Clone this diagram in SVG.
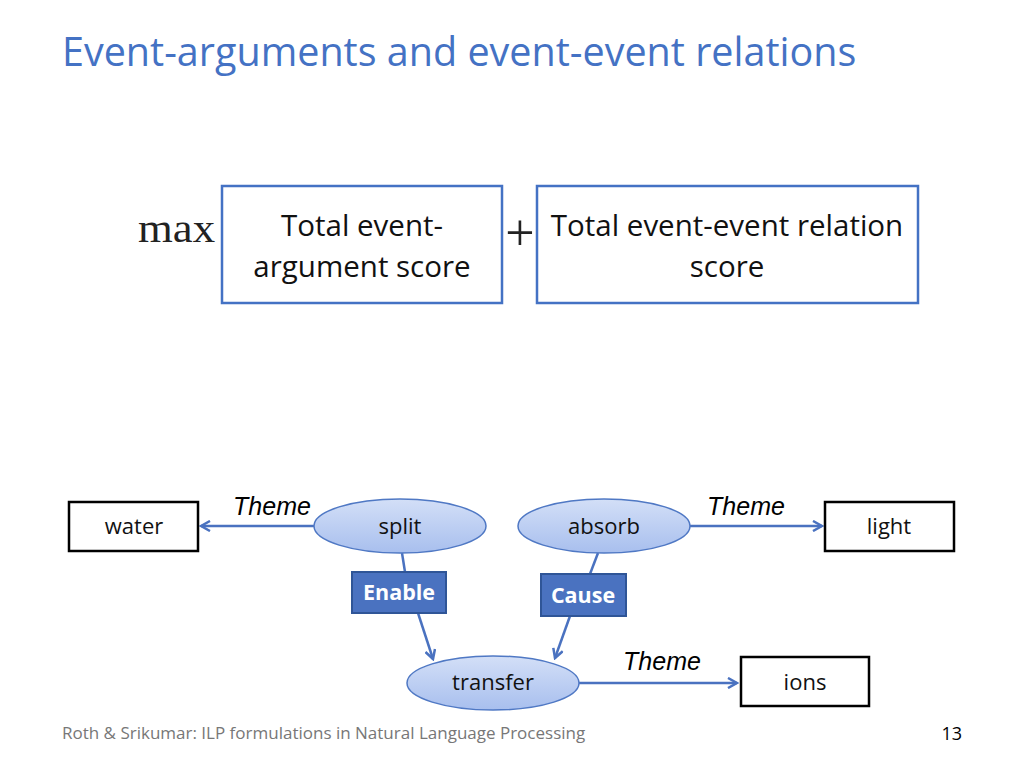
<svg xmlns="http://www.w3.org/2000/svg" width="1024" height="768" viewBox="0 0 1024 768">
<style>
.title{font-family:"Open Sans","Liberation Sans",sans-serif;font-size:39.5px;fill:#4472C4}
.big{font-family:"Open Sans","Liberation Sans",sans-serif;font-size:29.5px;fill:#111}
.bbox{fill:#fff;stroke:#4472C4;stroke-width:2.5}
.kbox{fill:#fff;stroke:#000;stroke-width:2.5}
.lbl{font-family:"Open Sans","Liberation Sans",sans-serif;font-size:22px;fill:#111;text-anchor:middle}
.rel{fill:#4A72C0;stroke:#2F5597;stroke-width:2}
.relt{font-family:"Open Sans","Liberation Sans",sans-serif;font-size:21.5px;font-weight:bold;fill:#fff;text-anchor:middle}
.ell{fill:url(#eg);stroke:#4F78C4;stroke-width:1.5}
.theme{font-family:"Liberation Sans",Arial,sans-serif;font-style:italic;font-size:25px;fill:#000;text-anchor:middle}
.con{stroke:#4A72C0;stroke-width:2.5;fill:none}
.math{font-family:"Liberation Serif","DejaVu Serif",serif;fill:#222}
.foot{font-family:"Open Sans","Liberation Sans",sans-serif;font-size:17px;fill:#777}
</style>
<defs>
<linearGradient id="eg" x1="0" y1="0" x2="0" y2="1">
<stop offset="0" stop-color="#D3DFF7"/>
<stop offset="1" stop-color="#A8BFEE"/>
</linearGradient>
<marker id="ah" viewBox="0 0 12 12" refX="10" refY="6" markerWidth="12" markerHeight="12" markerUnits="userSpaceOnUse" orient="auto">
<path d="M1,1 L10,6 L1,11" fill="none" stroke="#4A72C0" stroke-width="2.5"/>
</marker>
</defs>
<rect width="1024" height="768" fill="#fff"/>
<text class="title" x="62" y="66">Event-arguments and event-event relations</text>

<g id="formula">
<text class="math" x="138" y="242" font-size="40" textLength="77" lengthAdjust="spacingAndGlyphs">max</text>
<text class="math" x="520" y="250" font-size="52" text-anchor="middle">+</text>
</g>
<g id="box-argument">
<rect class="bbox" x="222" y="186" width="280" height="117"/>
<text class="big" x="362" y="236" text-anchor="middle">Total event-</text>
<text class="big" x="362" y="277" text-anchor="middle">argument score</text>
</g>
<g id="box-relation">
<rect class="bbox" x="537" y="186" width="381" height="117"/>
<text class="big" x="727" y="236" text-anchor="middle">Total event-event relation</text>
<text class="big" x="727" y="277" text-anchor="middle">score</text>
</g>

<g id="connectors">
<line class="con" x1="314" y1="526" x2="201" y2="526" marker-end="url(#ah)"/>
<line class="con" x1="690" y1="526" x2="822" y2="526" marker-end="url(#ah)"/>
<line class="con" x1="579" y1="683" x2="737" y2="683" marker-end="url(#ah)"/>
<line class="con" x1="402" y1="553" x2="405" y2="572"/>
<line class="con" x1="418" y1="613" x2="433" y2="659" marker-end="url(#ah)"/>
<line class="con" x1="598" y1="553" x2="590" y2="574"/>
<line class="con" x1="570" y1="616" x2="555" y2="658" marker-end="url(#ah)"/>
<text class="theme" x="272" y="515">Theme</text>
<text class="theme" x="746" y="515">Theme</text>
<text class="theme" x="662" y="670">Theme</text>
</g>

<g id="water">
<rect class="kbox" x="69" y="502" width="129" height="49"/>
<text class="lbl" x="134" y="534">water</text>
</g>
<g id="split">
<ellipse class="ell" cx="400" cy="526" rx="86" ry="27"/>
<text class="lbl" x="400" y="534">split</text>
</g>
<g id="absorb">
<ellipse class="ell" cx="604" cy="526" rx="86" ry="27"/>
<text class="lbl" x="604" y="534">absorb</text>
</g>
<g id="light">
<rect class="kbox" x="825" y="502" width="129" height="49"/>
<text class="lbl" x="889" y="534">light</text>
</g>
<g id="enable">
<rect class="rel" x="352" y="572" width="94" height="41"/>
<text class="relt" x="399" y="600">Enable</text>
</g>
<g id="cause">
<rect class="rel" x="541" y="574" width="85" height="42"/>
<text class="relt" x="583" y="603">Cause</text>
</g>
<g id="transfer">
<ellipse class="ell" cx="493" cy="683" rx="86" ry="27"/>
<text class="lbl" x="493" y="690">transfer</text>
</g>
<g id="ions">
<rect class="kbox" x="741" y="657" width="128" height="49"/>
<text class="lbl" x="805" y="690">ions</text>
</g>

<text class="foot" x="62" y="739">Roth &amp; Srikumar: ILP formulations in Natural Language Processing</text>
<text class="foot" x="962" y="740" text-anchor="end" style="fill:#000;font-size:18px">13</text>
</svg>
